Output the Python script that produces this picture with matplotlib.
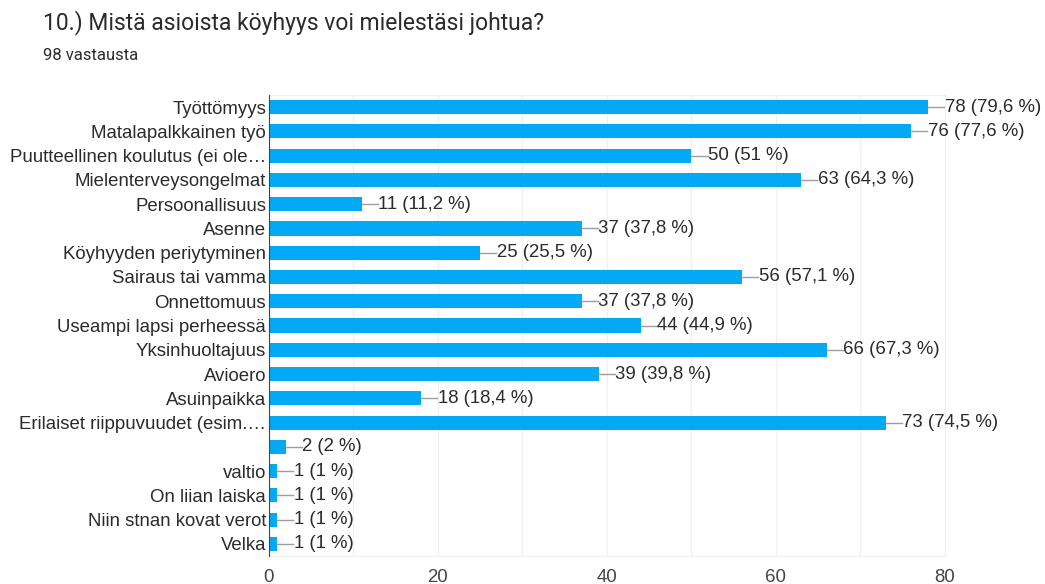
import numpy as np
import matplotlib.pyplot as plt

categories = ["Työttömyys", "Matalapalkkainen työ", "Puutteellinen koulutus (ei ole…",
              "Mielenterveysongelmat", "Persoonallisuus", "Asenne", "Köyhyyden periytyminen",
              "Sairaus tai vamma", "Onnettomuus", "Useampi lapsi perheessä", "Yksinhuoltajuus",
              "Avioero", "Asuinpaikka", "Erilaiset riippuvuudet (esim.…", "", "valtio",
              "On liian laiska", "Niin stnan kovat verot", "Velka"]
counts = [78, 76, 50, 63, 11, 37, 25, 56, 37, 44, 66, 39, 18, 73, 2, 1, 1, 1, 1]
percents = ["79,6", "77,6", "51", "64,3", "11,2", "37,8", "25,5", "57,1", "37,8", "44,9",
            "67,3", "39,8", "18,4", "74,5", "2", "1", "1", "1", "1"]

bar_color = "#03a9f4"
text_color = "#2b2b2b"
font = "Liberation Sans"

fig = plt.figure(figsize=(10.45, 5.84), dpi=100)
ax = fig.add_axes([0.2574, 0.0479, 0.6469, 0.7894])

y = np.arange(len(categories))
ax.barh(y, counts, height=0.58, color=bar_color, zorder=3)

# value labels with short leader lines
for yi, c, p in zip(y, counts, percents):
    ax.plot([c, c + 1.9], [yi, yi], color="#9e9e9e", lw=1, zorder=3)
    ax.text(c + 1.95, yi, f"{c} ({p} %)", va="center", ha="left",
            fontsize=13.4, color=text_color, family=font)

ax.set_xlim(0, 80)
ax.set_ylim(len(categories) - 0.5, -0.5)
ax.set_yticks(y)
ax.set_yticklabels(categories, fontsize=13.4, color=text_color, family=font)
ax.set_xticks([0, 20, 40, 60, 80])
ax.set_xticklabels(["0", "20", "40", "60", "80"], fontsize=13.4, color="#444444", family=font)
ax.set_xticks(np.arange(0, 81, 10), minor=True)
ax.grid(axis="x", which="both", color="#f0f0f0", lw=1, zorder=0)
ax.tick_params(axis="both", which="both", length=0)
ax.tick_params(axis="y", pad=2)
ax.tick_params(axis="x", pad=9)

for side in ["top", "right", "bottom"]:
    ax.spines[side].set_color("#f0f0f0")
ax.spines["left"].set_color("#444444")
ax.spines["left"].set_zorder(4)

fig.text(43 / 1045, 1 - 23 / 584, "10.) Mistä asioista köyhyys voi mielestäsi johtua?",
         fontsize=16.5, color=text_color, family="Roboto", va="center")
fig.text(43 / 1045, 1 - 55 / 584, "98 vastausta", fontsize=12, color=text_color,
         family="Roboto", va="center")

fig.savefig("out.png", dpi=100)
